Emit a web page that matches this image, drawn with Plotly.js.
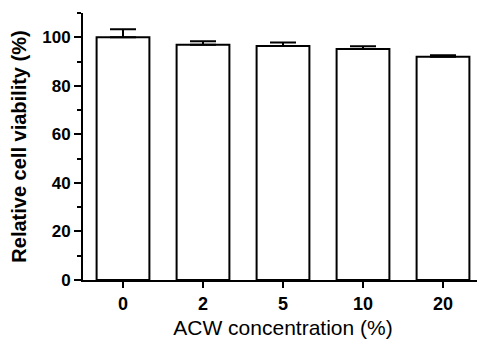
<!DOCTYPE html>
<html>
<head>
<meta charset="utf-8">
<script src="https://cdn.plot.ly/plotly-3.0.1.min.js"></script>
<style>
html,body{margin:0;padding:0;overflow:hidden;background:#fff;}
#chart{width:490px;height:343px;}
</style>
</head>
<body>
<div id="chart"></div>
<script>
const categories = ['0', '2', '5', '10', '20'];
const viability = [100, 96.9, 96.4, 95.2, 92.0];
const errorsUp = [3.3, 1.5, 1.4, 1.1, 0.6];
const xTitle = 'ACW concentration (%)';
const yTitle = 'Relative cell viability (%)';

const trace = {
  type: 'bar',
  x: categories,
  y: viability,
  width: 0.66,
  marker: {color: '#ffffff', line: {color: '#000000', width: 2}},
  error_y: {
    type: 'data',
    symmetric: false,
    array: errorsUp,
    arrayminus: errorsUp.map(() => 0),
    color: '#000000',
    thickness: 2,
    width: 13
  },
  hoverinfo: 'none'
};

const layout = {
  width: 490,
  height: 343,
  margin: {l: 83, r: 7, t: 13, b: 63},
  paper_bgcolor: '#ffffff',
  plot_bgcolor: '#ffffff',
  showlegend: false,
  font: {family: 'Liberation Sans, Arial, sans-serif', color: '#000000'},
  xaxis: {
    type: 'category',
    range: [-0.5, 4.5],
    showgrid: false,
    zeroline: false,
    showline: true,
    linecolor: '#000000',
    linewidth: 2,
    ticks: 'outside',
    ticklen: 6,
    tickwidth: 2,
    tickcolor: '#000000',
    tickfont: {size: 18, weight: 'bold', family: 'Liberation Sans, Arial, sans-serif'},
    title: {text: xTitle, font: {size: 21, family: 'Liberation Sans, Arial, sans-serif'}, standoff: 8}
  },
  yaxis: {
    range: [0, 110],
    dtick: 20,
    tick0: 0,
    showgrid: false,
    zeroline: false,
    showline: true,
    linecolor: '#000000',
    linewidth: 2,
    ticks: 'outside',
    ticklen: 7,
    tickwidth: 2,
    tickcolor: '#000000',
    minor: {dtick: 10, ticks: 'outside', ticklen: 4, tickwidth: 2, tickcolor: '#000000', showgrid: false},
    tickfont: {size: 17, weight: 'bold', family: 'Liberation Sans, Arial, sans-serif'},
    title: {text: yTitle, font: {size: 20, weight: 'bold', family: 'Liberation Sans, Arial, sans-serif'}, standoff: 10}
  }
};

Plotly.newPlot('chart', [trace], layout, {staticPlot: true, displayModeBar: false});
</script>
</body>
</html>
